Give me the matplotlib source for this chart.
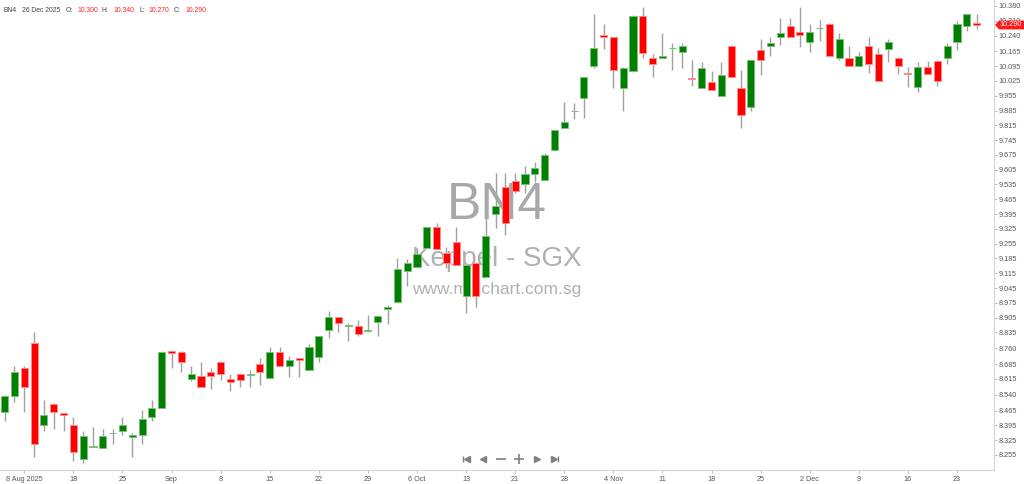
import numpy as np
import matplotlib
matplotlib.use('Agg')
import matplotlib.pyplot as plt
import matplotlib.transforms as mtransforms
from matplotlib.patches import Polygon

plt.rcParams['font.family'] = ['Liberation Sans', 'DejaVu Sans']

# daily OHLC, 100 sessions (8 Aug 2025 week .. 26 Dec 2025)
opens = [8.459, 8.535, 8.667, 8.785, 8.397, 8.496, 8.454, 8.397, 8.236, 8.293,
         8.288, 8.357, 8.369, 8.340, 8.350, 8.435, 8.478, 8.748, 8.743, 8.615,
         8.629, 8.648, 8.696, 8.615, 8.639, 8.634, 8.686, 8.620, 8.743, 8.676,
         8.714, 8.657, 8.719, 8.847, 8.908, 8.866, 8.866, 8.842, 8.885, 8.946,
         8.979, 9.126, 9.145, 9.235, 9.334, 9.211, 9.263, 9.008, 9.164, 9.097,
         9.396, 9.523, 9.552, 9.538, 9.585, 9.557, 9.698, 9.803, 9.881, 9.945,
         10.096, 10.243, 10.233, 9.992, 10.072, 10.333, 10.134, 10.134, 10.179, 10.162,
         10.039, 9.992, 10.020, 9.954, 10.191, 9.992, 9.902, 10.172, 10.191, 10.233,
         10.285, 10.257, 10.210, 10.274, 10.295, 10.134, 10.134, 10.096, 10.191, 10.153,
         10.177, 10.134, 10.063, 9.997, 10.091, 10.120, 10.134, 10.210, 10.285, 10.300]
highs = [8.540, 8.676, 8.676, 8.837, 8.515, 8.500, 8.456, 8.435, 8.369, 8.388,
         8.378, 8.378, 8.435, 8.359, 8.468, 8.515, 8.745, 8.752, 8.745, 8.676,
         8.696, 8.667, 8.698, 8.639, 8.641, 8.657, 8.714, 8.766, 8.766, 8.724,
         8.716, 8.780, 8.820, 8.937, 8.910, 8.880, 8.894, 8.918, 8.915, 8.965,
         9.187, 9.183, 9.235, 9.336, 9.353, 9.239, 9.334, 9.156, 9.166, 9.381,
         9.590, 9.590, 9.590, 9.623, 9.642, 9.684, 9.795, 9.926, 9.921, 10.046,
         10.342, 10.295, 10.235, 10.091, 10.335, 10.375, 10.153, 10.252, 10.205, 10.205,
         10.124, 10.115, 10.072, 10.115, 10.193, 10.077, 10.126, 10.224, 10.233, 10.323,
         10.323, 10.375, 10.295, 10.314, 10.300, 10.252, 10.191, 10.162, 10.233, 10.181,
         10.224, 10.136, 10.091, 10.115, 10.120, 10.122, 10.205, 10.309, 10.344, 10.340]
lows = [8.416, 8.506, 8.459, 8.245, 8.369, 8.378, 8.369, 8.227, 8.217, 8.293,
        8.288, 8.307, 8.350, 8.245, 8.307, 8.416, 8.476, 8.667, 8.648, 8.606,
        8.577, 8.568, 8.610, 8.558, 8.577, 8.577, 8.587, 8.620, 8.676, 8.624,
        8.624, 8.657, 8.696, 8.809, 8.837, 8.795, 8.818, 8.837, 8.818, 8.875,
        8.979, 9.055, 9.140, 9.233, 9.230, 9.140, 9.154, 8.927, 8.956, 9.097,
        9.329, 9.296, 9.495, 9.495, 9.547, 9.557, 9.696, 9.801, 9.845, 9.850,
        10.087, 10.177, 9.992, 9.883, 10.068, 10.134, 10.044, 10.132, 10.077, 10.087,
        10.001, 9.990, 9.980, 9.952, 10.042, 9.803, 9.883, 10.053, 10.143, 10.196,
        10.231, 10.186, 10.162, 10.214, 10.141, 10.124, 10.094, 10.094, 10.063, 10.023,
        10.115, 10.058, 9.997, 9.973, 10.056, 10.001, 10.106, 10.172, 10.262, 10.270]
closes = [8.535, 8.648, 8.577, 8.307, 8.444, 8.459, 8.444, 8.269, 8.345, 8.298,
          8.345, 8.359, 8.397, 8.350, 8.425, 8.478, 8.743, 8.738, 8.696, 8.639,
          8.577, 8.629, 8.639, 8.601, 8.610, 8.639, 8.648, 8.743, 8.676, 8.705,
          8.705, 8.766, 8.818, 8.908, 8.880, 8.870, 8.828, 8.847, 8.913, 8.956,
          9.135, 9.164, 9.206, 9.334, 9.230, 9.164, 9.154, 9.154, 9.008, 9.291,
          9.434, 9.353, 9.504, 9.585, 9.613, 9.675, 9.793, 9.831, 9.883, 10.044,
          10.181, 10.233, 10.077, 10.087, 10.333, 10.158, 10.106, 10.143, 10.181, 10.191,
          10.035, 10.087, 9.982, 10.053, 10.044, 9.864, 10.124, 10.124, 10.205, 10.252,
          10.233, 10.243, 10.257, 10.276, 10.143, 10.224, 10.096, 10.143, 10.106, 10.025,
          10.210, 10.096, 10.058, 10.091, 10.058, 10.025, 10.191, 10.295, 10.342, 10.290]

date_tick_bars = [2, 7, 12, 17, 22, 27, 32, 37, 42, 47, 52, 57, 62, 67, 72, 77, 82, 87, 92, 97]
date_tick_labels = ['8 Aug 2025', '18', '25', 'Sep', '8', '15', '22', '29', '6 Oct', '13',
                    '21', '28', '4 Nov', '11', '18', '25', '2 Dec', '9', '16', '23']
price_ticks = [10.380, 10.310, 10.240, 10.165, 10.095, 10.025, 9.955, 9.885, 9.815, 9.745,
               9.675, 9.605, 9.535, 9.465, 9.395, 9.325, 9.255, 9.185, 9.115, 9.045,
               8.975, 8.905, 8.835, 8.760, 8.685, 8.615, 8.540, 8.465, 8.395, 8.325, 8.255]

o = np.array(opens); h = np.array(highs); l = np.array(lows); c = np.array(closes)
x = np.arange(len(o))
up = c >= o

fig = plt.figure(figsize=(10.24, 4.84), dpi=100)
ax = fig.add_axes([0, 14 / 484, 994 / 1024, 470 / 484])

# watermark behind candles
ax.text(0.5, 0.562, 'BN4', transform=ax.transAxes, ha='center', va='center',
        fontsize=37, color='#a8a8a8', zorder=0)
ax.text(0.5, 0.448, 'Keppel - SGX', transform=ax.transAxes, ha='center', va='center',
        fontsize=20, color='#b0b0b0', zorder=0)
ax.text(0.5, 0.385, 'www.mirichart.com.sg', transform=ax.transAxes, ha='center', va='center',
        fontsize=12.5, color='#b0b0b0', zorder=0)

ax.vlines(x, l, h, color='#a0a0a0', lw=1.0, zorder=2)
body_bottom = np.minimum(o, c)
body_h = np.maximum(np.abs(c - o), 0.002)
ax.bar(x[up], body_h[up], bottom=body_bottom[up], width=0.72,
       color='#008000', edgecolor='#7cc07c', linewidth=0.7, zorder=3)
ax.bar(x[~up], body_h[~up], bottom=body_bottom[~up], width=0.72,
       color='#ff0000', edgecolor='#ff8c8c', linewidth=0.7, zorder=3)

ax.set_xlim(-0.475, 100.77)
ax.set_ylim(8.184, 10.408)

ax.yaxis.tick_right()
ax.set_yticks(price_ticks)
ax.set_yticklabels(['%.3f' % t for t in price_ticks])
ax.set_xticks(date_tick_bars)
ax.set_xticklabels(date_tick_labels)
ax.tick_params(axis='y', labelsize=5.2, colors='#b0b0b0', labelcolor='#555555',
               length=2, width=0.6, pad=1.5)
ax.tick_params(axis='x', labelsize=5.2, colors='#b0b0b0', labelcolor='#555555',
               length=2.5, width=0.6, pad=1.5)
for s in ['top', 'left']:
    ax.spines[s].set_visible(False)
for s in ['right', 'bottom']:
    ax.spines[s].set_color('#d6d6d6')
    ax.spines[s].set_linewidth(0.8)

# last price tag (covers the 10.310 label like the original)
trans = mtransforms.blended_transform_factory(ax.transAxes, ax.transData)
last = closes[-1]
hh = 0.021
tag = Polygon([[1.0 + 1 / 994, last], [1.0 + 5 / 994, last + hh], [1.0 + 31 / 994, last + hh],
               [1.0 + 31 / 994, last - hh], [1.0 + 5 / 994, last - hh]],
              closed=True, transform=trans, facecolor='#ff1a1a', edgecolor='none',
              clip_on=False, zorder=10)
ax.add_patch(tag)
ax.text(1.0 + 17 / 994, last, '%.3f' % last, transform=trans, ha='center', va='center',
        fontsize=5.2, color='white', clip_on=False, zorder=11)

# header
hdr_y = 1 - 10 / 484
hfs = 4.9
fig.text(3 / 1024, hdr_y, 'BN4', fontsize=hfs, color='#444444', va='center')
fig.text(22 / 1024, hdr_y, '26 Dec 2025', fontsize=hfs, color='#444444', va='center')
for lab, xl, val, xv in [('O:', 66, opens[-1], 77), ('H:', 102, highs[-1], 113),
                         ('L:', 139, lows[-1], 148), ('C:', 174, closes[-1], 185)]:
    fig.text(xl / 1024, hdr_y, lab, fontsize=hfs, color='#444444', va='center')
    fig.text(xv / 1024, hdr_y, '%.3f' % val, fontsize=hfs, color='#ff2020', va='center')

# navigation buttons
ny = 11 / 470
nav_col = '#808080'
bx = [465, 483, 501, 519, 537, 555]
kw = dict(transform=ax.transAxes, clip_on=False, color=nav_col, linestyle='none')
ax.plot([(bx[0] - 2.5) / 994], [ny], marker='|', markersize=5, mew=1.0, **kw)
ax.plot([(bx[0] + 1.5) / 994], [ny], marker='<', markersize=4, **kw)
ax.plot([bx[1] / 994], [ny], marker='<', markersize=4, **kw)
ax.plot([bx[2] / 994], [ny], marker='_', markersize=7, mew=1.2, **kw)
ax.plot([bx[3] / 994], [ny], marker='+', markersize=7, mew=1.2, **kw)
ax.plot([bx[4] / 994], [ny], marker='>', markersize=4, **kw)
ax.plot([(bx[5] - 1.5) / 994], [ny], marker='>', markersize=4, **kw)
ax.plot([(bx[5] + 2.5) / 994], [ny], marker='|', markersize=5, mew=1.0, **kw)

fig.savefig('out.png', dpi=100)
